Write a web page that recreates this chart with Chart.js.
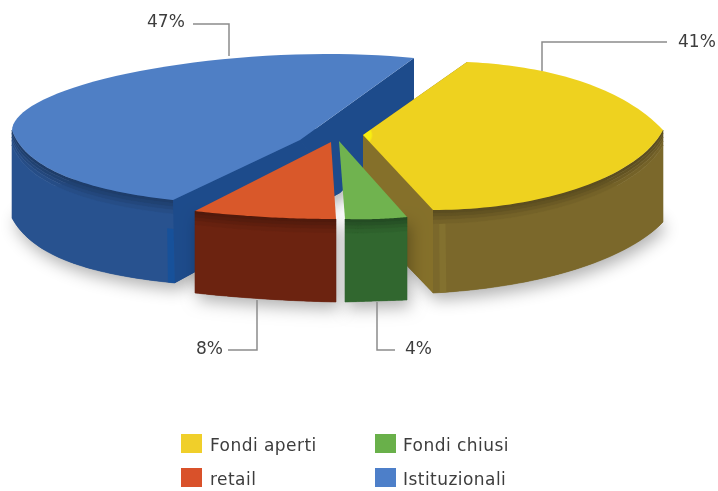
<!DOCTYPE html>
<html><head><meta charset="utf-8">
<script src="https://cdn.jsdelivr.net/npm/chart.js@4/dist/chart.umd.min.js"></script>
<style>html,body{margin:0;padding:0;background:#fff}canvas{display:block}</style>
</head><body><canvas id="c" width="718" height="491"></canvas>
<script>
const categories = ['Fondi aperti', 'Fondi chiusi', 'retail', 'Istituzionali'];
const shares = [41, 4, 8, 47];
const topColors = ['#eed21f', '#70b34f', '#d9582a', '#4f7fc5'];
const rimColors = ['#7b682b', '#31672f', '#6c2310', '#28528f'];
const innerColors = ['#85702a', '#31672f', '#6c2310', '#1d4b8b'];
const legendColors = ['#f0cf2a', '#69b04a', '#d9512a', '#4d7fc9'];
const tipColors = ['#f9ee10', null, null, null];

// view frame of each slice: apex, then an odd number of guide points along the rim
const topFrames = [
  [[363,135],[467,62],[570,78],[663,130],[563,193],[433,210]],
  [[339,141],[407,217],[376,219],[345,219]],
  [[331,142],[336,219],[265,217],[195,211]],
  [[300,140],[173,200],[70,178],[12,130],[140,71],[414,58]]
];
const baseFrames = [
  [[363,220],[467,146],[570,165],[663,222],[563,273],[433,293]],
  [[339,223],[407,300],[376,301],[345,302]],
  [[331,224],[336,302],[265,299],[195,293]],
  [[340,193],[175,283],[70,262],[12,218],[140,160],[414,120]]
];
const showInner = [true, false, false, true];
const rimHighlights = [[433, 446, '#83712f', 0.17], null, null, [164, 174, '#17519a', 0.35]];
const shadeStops = [0, 0.04, 0.08, 0.12, 0.17, 1];
const shadeLevels = [0.74, 0.8, 0.87, 0.94, 1];
const paintOrder = [3, 0, 2, 1];
const leaders = [
  [[542,71],[542,42],[667,42]],
  [[377,302],[377,350],[395,350]],
  [[257,300],[257,350],[228,350]],
  [[229,56],[229,24],[193,24]]
];
const labelAnchors = [[678,43,'left'],[405,350,'left'],[196,350,'left'],[147,23,'left']];
const legendCells = [[181,434,210],[375,434,403],[181,468,210],[375,468,403]];
const TEXT = '#3d3d3d';
const FONT = '"DejaVu Sans"';

function solve(A, b) {
  const n = b.length, M = A.map((r, i) => [...r, b[i]]);
  for (let i = 0; i < n; i++) {
    let p = i;
    for (let k = i + 1; k < n; k++) if (Math.abs(M[k][i]) > Math.abs(M[p][i])) p = k;
    [M[i], M[p]] = [M[p], M[i]];
    for (let k = 0; k < n; k++) {
      if (k === i) continue;
      const f = M[k][i] / M[i][i];
      for (let j = i; j <= n; j++) M[k][j] -= f * M[i][j];
    }
  }
  return M.map((r, i) => r[n] / r[i]);
}
function homography(src, dst) {
  const A = [], b = [];
  src.forEach(([x, y], i) => {
    const [X, Y] = dst[i];
    A.push([x, y, 1, 0, 0, 0, -x * X, -y * X]); b.push(X);
    A.push([0, 0, 0, x, y, 1, -x * Y, -y * Y]); b.push(Y);
  });
  const [p, q, r, s, t, u, v, w] = solve(A, b);
  return (x, y) => { const d = v * x + w * y + 1; return [(p * x + q * y + r) / d, (s * x + t * y + u) / d]; };
}
function poly(ctx, pts) {
  ctx.beginPath();
  pts.forEach((p, i) => i ? ctx.lineTo(p[0], p[1]) : ctx.moveTo(p[0], p[1]));
  ctx.closePath();
}
function lerp(a, b, t) { return [a[0] + (b[0] - a[0]) * t, a[1] + (b[1] - a[1]) * t]; }
function shade(hex, f) {
  const n = parseInt(hex.slice(1), 16);
  return `rgb(${Math.round((n >> 16) * f)},${Math.round(((n >> 8) & 255) * f)},${Math.round((n & 255) * f)})`;
}
// project the arc of a slice, piece by piece, through its view frame
function projectRim(a0, a1, frame) {
  const apex = frame[0], guides = frame.slice(1), pieces = (guides.length - 1) / 2, out = [];
  const da = (a1 - a0) / pieces;
  for (let j = 0; j < pieces; j++) {
    const s = a0 + j * da, m = s + da / 2, e = s + da;
    const src = [[0, 0], [Math.cos(s), Math.sin(s)], [Math.cos(m), Math.sin(m)], [Math.cos(e), Math.sin(e)]];
    const H = homography(src, [apex, guides[2 * j], guides[2 * j + 1], guides[2 * j + 2]]);
    for (let k = 0; k <= 40; k++) {
      const a = s + da * k / 40;
      out.push(H(Math.cos(a), Math.sin(a)));
    }
  }
  return out;
}
// the near side of the rim: one continuous run of points moving left on screen
function nearRun(top) {
  let first = -1, last = -1;
  for (let k = 0; k + 1 < top.length; k++) {
    if (top[k + 1][0] <= top[k][0]) { if (first < 0) first = k; last = k + 1; }
  }
  return [first, last];
}

const pie3d = {
  id: 'pie3d',
  beforeDatasetDraw(chart, args) {
    const ctx = chart.ctx;
    const arcs = chart.getDatasetMeta(args.index).data;
    const geo = arcs.map((arc, i) => ({
      top: projectRim(arc.startAngle, arc.endAngle, topFrames[i]),
      base: projectRim(arc.startAngle, arc.endAngle, baseFrames[i])
    }));
    paintOrder.forEach(i => {
      const { top, base } = geo[i];
      const ta = topFrames[i][0], ba = baseFrames[i][0];
      ctx.save();
      ctx.shadowColor = 'rgba(0,0,0,0.3)'; ctx.shadowBlur = 16; ctx.shadowOffsetX = 3; ctx.shadowOffsetY = 7;
      ctx.fillStyle = rimColors[i];
      poly(ctx, showInner[i] ? [ba, ...base] : [top[0], ...base, top[top.length - 1]]); ctx.fill();
      ctx.restore();

      const [first, last] = nearRun(top);
      const idx = [];
      for (let k = first; k <= last; k++) idx.push(k);
      ctx.lineWidth = 0.6;
      shadeLevels.forEach((lvl, b) => {
        const f0 = shadeStops[b], f1 = shadeStops[b + 1];
        ctx.fillStyle = ctx.strokeStyle = shade(rimColors[i], lvl);
        poly(ctx, [...idx.map(k => lerp(top[k], base[k], f0)),
                   ...idx.slice().reverse().map(k => lerp(top[k], base[k], f1))]);
        ctx.fill(); ctx.stroke();
      });
      const hl = rimHighlights[i];
      if (hl) {
        const run = idx.filter(k => top[k][0] >= hl[0] && top[k][0] <= hl[1]);
        ctx.fillStyle = hl[2];
        poly(ctx, [...run.map(k => lerp(top[k], base[k], hl[3])), ...run.slice().reverse().map(k => base[k])]);
        ctx.fill();
      }
      if (showInner[i]) {
        ctx.fillStyle = innerColors[i];
        poly(ctx, [ta, top[0], base[0], ba]); ctx.fill();
        poly(ctx, [ta, top[top.length - 1], base[base.length - 1], ba]); ctx.fill();
      }
      if (tipColors[i]) {
        const g = ctx.createRadialGradient(ta[0], ta[1], 0, ta[0], ta[1], 10);
        g.addColorStop(0, tipColors[i]); g.addColorStop(0.8, tipColors[i]); g.addColorStop(1, topColors[i]);
        ctx.fillStyle = g;
      } else {
        ctx.fillStyle = topColors[i];
      }
      poly(ctx, [ta, ...top]); ctx.fill();
    });
    return false;
  },
  afterDraw(chart) {
    const ctx = chart.ctx;
    ctx.save();
    ctx.strokeStyle = '#8c8c8c'; ctx.lineWidth = 1.5; ctx.lineJoin = 'miter';
    leaders.forEach(l => {
      ctx.beginPath();
      l.forEach((p, i) => i ? ctx.lineTo(p[0], p[1]) : ctx.moveTo(p[0], p[1]));
      ctx.stroke();
    });
    ctx.fillStyle = TEXT; ctx.textBaseline = 'middle';
    ctx.font = '17px ' + FONT;
    shares.forEach((v, i) => {
      const [x, y, al] = labelAnchors[i];
      ctx.textAlign = al; ctx.fillText(v + '%', x, y);
    });
    ctx.textAlign = 'left';
    ctx.letterSpacing = '0.45px';
    categories.forEach((c, i) => {
      const [bx, by, tx] = legendCells[i];
      ctx.fillStyle = legendColors[i];
      ctx.fillRect(bx, by, 21, 19);
      ctx.fillStyle = TEXT;
      ctx.font = '17px ' + FONT;
      ctx.fillText(c, tx, by + 13);
    });
    ctx.restore();
  }
};

new Chart(document.getElementById('c'), {
  type: 'pie',
  data: { labels: categories, datasets: [{ data: shares, backgroundColor: topColors, borderWidth: 0 }] },
  options: {
    responsive: false,
    animation: false,
    rotation: 20,
    layout: { padding: 0 },
    plugins: { legend: { display: false }, tooltip: { enabled: false } }
  },
  plugins: [pie3d]
});
</script></body></html>
